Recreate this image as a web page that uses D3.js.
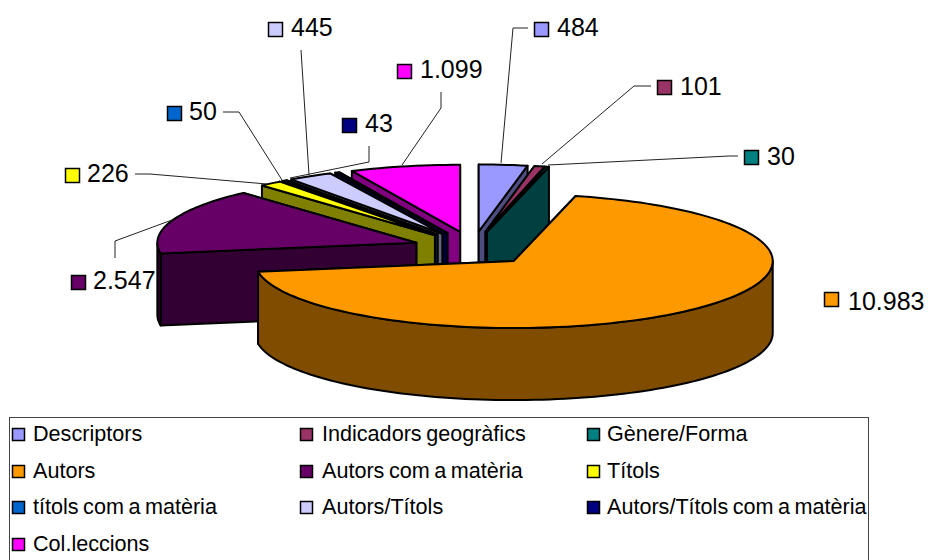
<!DOCTYPE html>
<html><head><meta charset="utf-8">
<script src="https://cdn.jsdelivr.net/npm/d3@7/dist/d3.min.js"></script>
<style>html,body{margin:0;padding:0;background:#fff;overflow:hidden}svg{display:block}</style>
</head><body><svg id="c" width="928" height="560"></svg>
<script>
const categories = ["Descriptors","Indicadors geogràfics","Gènere/Forma","Autors","Autors com a matèria","Títols","títols com a matèria","Autors/Títols","Autors/Títols com a matèria","Col.leccions"];
const values = [484,101,30,10983,2547,226,50,445,43,1099];
const valueLabels = ["484","101","30","10.983","2.547","226","50","445","43","1.099"];
const colors = ["#9999ff","#993366","#008080","#ff9900","#660066","#ffff00","#0066cc","#ccccff","#000080","#ff00ff"];

// layout
const W=928,H=560, cx=473, cy=248.5, rx=259, ry=67, depth=72, explodeX=0.232, explodeY=0.255;
const sx=d3.scaleLinear().domain([-1,1]).range([cx-rx,cx+rx]);
const sy=d3.scaleLinear().domain([-1,1]).range([cy+ry,cy-ry]);
const labelLayout=[
 {sq:[534,22],tx:[557,36],lead:[[501,163],[513,28],[528,28]]},
 {sq:[657,80],tx:[680,95],lead:[[542,164],[634,86],[651,86]]},
 {sq:[744,150],tx:[767,165],lead:[[548,165],[729,156],[738,156]]},
 {sq:[824,292],tx:[848,310],lead:[]},
 {sq:[71,275],tx:[93,289],lead:[[172,220],[115,241],[115,258]]},
 {sq:[65,168],tx:[87,182],lead:[[267,184],[150,174],[135,174]]},
 {sq:[167,106],tx:[189,120],lead:[[282,180],[239,112],[223,112]]},
 {sq:[268,22],tx:[291,36],lead:[[309,175],[301,50]]},
 {sq:[342,118],tx:[365,132],lead:[[290,178],[369,162],[369,146]]},
 {sq:[397,64],tx:[420,78],lead:[[402,165],[441,108],[441,92]]}
];
const legendCols=[12,300,587], legendTextCols=[33,322,607], legendRowY=[428,465,501,538];

const svg=d3.select("#c");
const font="'Liberation Sans',Arial,sans-serif";
const pie=d3.pie().sort(null).value(d=>d)(values);
const line=d3.line();
const arcs=pie.map((p,i)=>{
  const m=(p.startAngle+p.endAngle)/2;
  const pt=(t,k=1,d=0)=>[sx(explodeX*Math.sin(m)+k*Math.sin(t)), sy(explodeY*Math.cos(m)+k*Math.cos(t))+d];
  return {i,a0:p.startAngle,a1:p.endAngle,pt};
});
function rim(a,b,pt,d=0){const n=Math.max(2,Math.ceil((b-a)/0.03));return d3.range(n+1).map(j=>pt(a+(b-a)*j/n,1,d));}
function shade(c){const r=d3.rgb(c);return d3.rgb(r.r*.5,r.g*.5,r.b*.5).formatHex();}
const g=svg.append("g").attr("stroke","#000").attr("stroke-width",2).attr("stroke-linejoin","round");
function poly(pts,fill){g.append("path").attr("d",line(pts)+"Z").attr("fill",fill);}
// paint back to front: left-hand slices descending, right-hand ascending, biggest front slice last
const order=[9,8,7,6,5,4,0,1,2,3];
order.forEach(i=>{
  const s=arcs[i],dark=shade(colors[i]);
  const walls=[s.a0,s.a1].map(t=>({t,y:s.pt(t)[1]})).sort((a,b)=>a.y-b.y);
  walls.forEach(w=>{
    const A=s.pt(0,0),B=s.pt(w.t);
    poly([A,B,[B[0],B[1]+depth],[A[0],A[1]+depth]],dark);
  });
  const lo=Math.max(s.a0,Math.PI/2),hi=Math.min(s.a1,Math.PI*1.5);
  if(hi>lo){
    poly(rim(lo,hi,s.pt,0).concat(rim(lo,hi,s.pt,depth).reverse()),dark);
  }
  poly([s.pt(0,0)].concat(rim(s.a0,s.a1,s.pt,0)),colors[i]);
});
// leader lines
svg.append("g").attr("fill","none").attr("stroke","#222").attr("stroke-width",1)
 .selectAll("path").data(labelLayout.filter(l=>l.lead.length)).join("path").attr("d",l=>line(l.lead));
// data labels
const lab=svg.append("g").selectAll("g").data(values).join("g");
lab.append("rect").attr("x",(d,i)=>labelLayout[i].sq[0]+.5).attr("y",(d,i)=>labelLayout[i].sq[1]+.5)
 .attr("width",14).attr("height",14).attr("fill",(d,i)=>colors[i]).attr("stroke","#000").attr("stroke-width",1.5);
lab.append("text").attr("x",(d,i)=>labelLayout[i].tx[0]).attr("y",(d,i)=>labelLayout[i].tx[1])
 .attr("font-family",font).attr("font-size",25).attr("fill","#000").text((d,i)=>valueLabels[i]);
// legend
svg.append("rect").attr("x",9.5).attr("y",417.5).attr("width",859).attr("height",160).attr("fill","none").attr("stroke","#444").attr("stroke-width",1);
const leg=svg.append("g").selectAll("g").data(categories).join("g");
leg.append("rect").attr("x",(d,i)=>legendCols[i%3]+.5).attr("y",(d,i)=>legendRowY[Math.floor(i/3)]+.5)
 .attr("width",12).attr("height",12).attr("fill",(d,i)=>colors[i]).attr("stroke","#000").attr("stroke-width",1.5);
leg.append("text").attr("x",(d,i)=>legendTextCols[i%3]).attr("y",(d,i)=>legendRowY[Math.floor(i/3)]+13)
 .attr("font-family",font).attr("font-size",21.6).attr("word-spacing",-1.5).attr("fill","#000").text(d=>d);
</script></body></html>
